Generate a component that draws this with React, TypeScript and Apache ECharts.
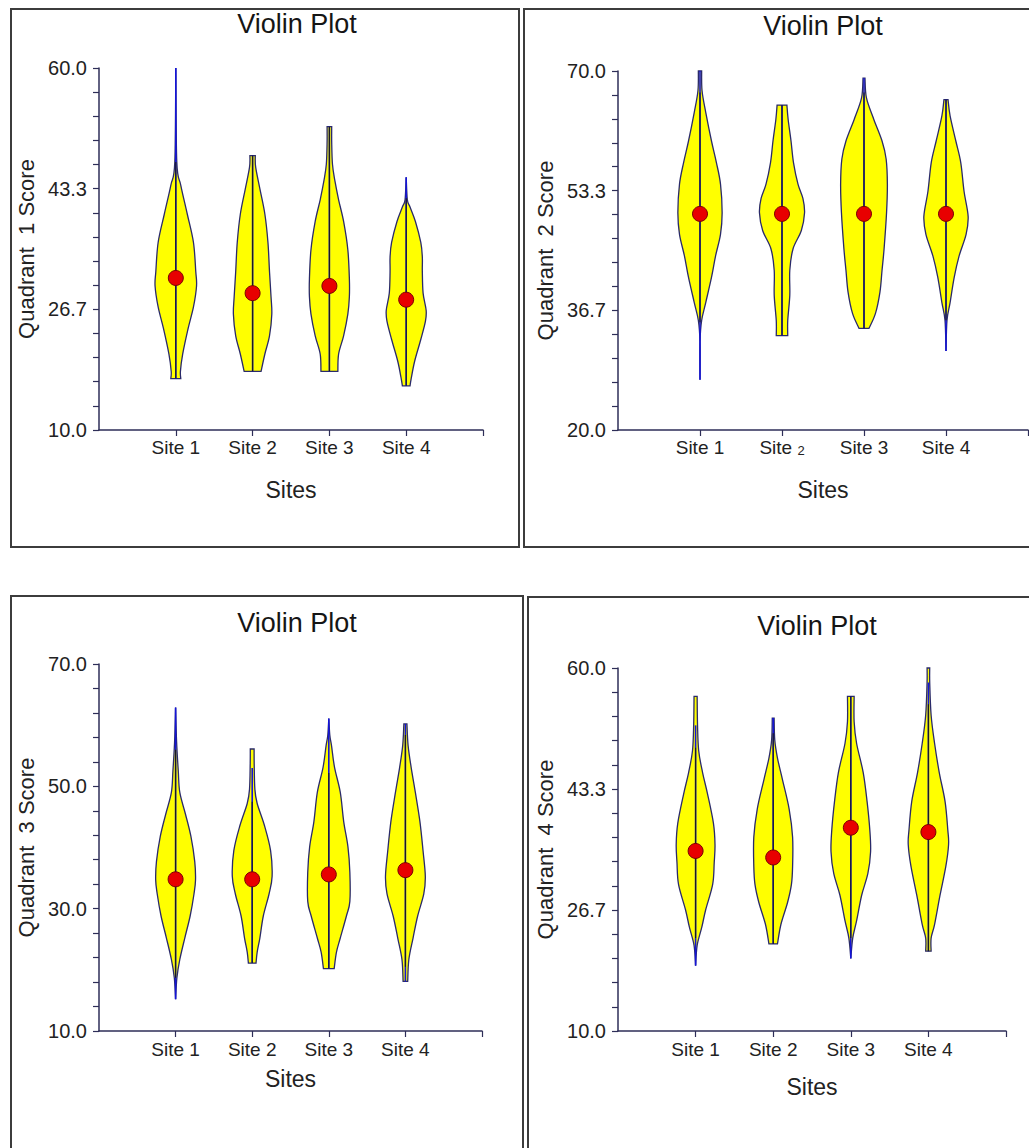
import React, { useEffect, useRef } from "react";
import * as echarts from "echarts";

// ---------- DATA ----------
const siteNames = ["Site 1", "Site 2", "Site 3", "Site 4"];
const chartTitle = "Violin Plot";
const xName = "Sites";
const yNames = ["Quadrant  1 Score", "Quadrant  2 Score", "Quadrant  3 Score", "Quadrant  4 Score"];

// axis ranges [min, max]
const q1Range = [10, 60];
const q2Range = [20, 70];
const q3Range = [10, 70];
const q4Range = [10, 60];

// density profiles: [score, half-width in site units]
const q1Profiles = [
  [[60, 0], [47, 0.013], [43.8, 0.065], [39.8, 0.15], [35.9, 0.23], [31.9, 0.26], [29.9, 0.27], [27, 0.23], [24, 0.16], [20.5, 0.09], [18.1, 0.06], [17.1, 0.065]],
  [[47.9, 0.035], [46.3, 0.04], [43.3, 0.095], [39.8, 0.16], [35.9, 0.2], [31.9, 0.22], [28.4, 0.24], [26, 0.25], [23, 0.22], [20.5, 0.16], [18.1, 0.11]],
  [[51.9, 0.03], [49.7, 0.03], [46.7, 0.04], [44.5, 0.07], [41.8, 0.12], [38.8, 0.185], [34.9, 0.24], [30.9, 0.26], [28.4, 0.26], [26, 0.24], [23, 0.185], [20.5, 0.12], [18.1, 0.11]],
  [[44.9, 0], [41.8, 0.015], [40.8, 0.05], [38.8, 0.12], [35.9, 0.19], [33.9, 0.21], [31.9, 0.21], [28.9, 0.22], [26.5, 0.26], [25, 0.25], [22.5, 0.19], [19.5, 0.11], [17.1, 0.065], [16.1, 0.05]],
];
const q2Profiles = [
  [[70, 0.02], [67.25, 0.025], [64.25, 0.07], [60.25, 0.14], [57.25, 0.2], [54.25, 0.25], [50.25, 0.27], [47.25, 0.25], [44.25, 0.19], [41.25, 0.14], [37.75, 0.07], [35.25, 0.02], [32.25, 0], [27, 0]],
  [[65.25, 0.06], [63.25, 0.075], [60.25, 0.11], [57.25, 0.14], [54.25, 0.195], [52.25, 0.255], [50.25, 0.275], [47.75, 0.235], [45.25, 0.135], [42.25, 0.095], [38.75, 0.095], [35.25, 0.07], [33.15, 0.07]],
  [[69, 0.012], [66.25, 0.03], [63.25, 0.12], [60.25, 0.22], [57.75, 0.27], [54.25, 0.285], [50.25, 0.275], [45.25, 0.245], [42.25, 0.22], [39.25, 0.195], [36.25, 0.14], [34.15, 0.06]],
  [[66, 0.025], [63.75, 0.05], [60.25, 0.12], [57.25, 0.18], [53.25, 0.22], [49.75, 0.27], [47.25, 0.245], [44.25, 0.16], [41.25, 0.1], [37.75, 0.05], [35.25, 0.012], [31, 0]],
];
const q3Profiles = [
  [[62.9, 0], [57.3, 0.013], [52.5, 0.035], [49, 0.055], [45.4, 0.13], [41.8, 0.2], [37.7, 0.25], [34.7, 0.26], [32.4, 0.24], [28.8, 0.19], [25.2, 0.12], [21.7, 0.055], [18.7, 0.017], [15.2, 0]],
  [[56.1, 0.025], [53.7, 0.026], [49.5, 0.035], [47.2, 0.065], [43.6, 0.16], [39.5, 0.24], [35.3, 0.26], [32.4, 0.22], [28.8, 0.145], [25.2, 0.1], [22.9, 0.065], [21.1, 0.05]],
  [[61.1, 0], [58.4, 0.013], [56.7, 0.035], [53.1, 0.075], [49, 0.15], [44.2, 0.195], [40.1, 0.25], [35.9, 0.275], [31.2, 0.275], [28.8, 0.23], [25.2, 0.15], [22.9, 0.1], [20.2, 0.07]],
  [[60.2, 0.02], [56.7, 0.035], [53.1, 0.075], [49, 0.13], [44.2, 0.19], [39.5, 0.23], [35.3, 0.26], [32.4, 0.24], [28.8, 0.16], [25.2, 0.1], [21.7, 0.045], [18.1, 0.03]],
];
const q4Profiles = [
  [[56.1, 0.02], [52.1, 0.025], [48.6, 0.04], [45.6, 0.09], [42.6, 0.155], [38.6, 0.23], [35.7, 0.25], [33.2, 0.24], [30.2, 0.22], [26.7, 0.13], [24.3, 0.08], [21.8, 0.02], [19, 0]],
  [[53.1, 0.012], [50.1, 0.02], [47.6, 0.055], [44.6, 0.12], [40.6, 0.205], [36.7, 0.25], [32.7, 0.25], [30.2, 0.235], [27.7, 0.185], [24.7, 0.1], [22, 0.055]],
  [[56.1, 0.043], [52.6, 0.043], [49.6, 0.075], [45.6, 0.16], [41.6, 0.21], [37.7, 0.245], [34.7, 0.255], [31.7, 0.22], [28.7, 0.14], [25.2, 0.075], [22.8, 0.025], [20, 0]],
  [[60, 0.017], [58, 0.017], [53.5, 0.035], [49.6, 0.08], [45.6, 0.14], [41.6, 0.215], [37.7, 0.25], [35.7, 0.26], [32.7, 0.225], [28.7, 0.15], [24.7, 0.08], [22.8, 0.035], [21, 0.035]],
];

// black centre line [low, high]
const q1Inner = [[17.1, 47], [18.1, 47.9], [18.1, 51.9], [16.1, 42]];
const q2Inner = [[35, 67], [33.15, 65.25], [34.15, 67], [35.3, 66]];
const q3Inner = [[18.7, 56], [21.1, 47.5], [20.2, 52.2], [20.5, 58.4]];
const q4Inner = [[22.8, 49], [22, 51], [22.8, 56.1], [21, 55]];

// blue data range [min, max]
const q1Outer = [[17.1, 60], [18.1, 47.9], [18.1, 51.9], [16.1, 44.9]];
const q2Outer = [[27, 70], [33.15, 65.25], [34.15, 69], [31, 66]];
const q3Outer = [[15.2, 62.9], [21.1, 53], [20.2, 61.1], [18.1, 60.2]];
const q4Outer = [[19, 52.1], [22, 53.1], [20, 56.1], [21, 58]];

// medians (red dots)
const q1Medians = [31.0, 28.9, 29.9, 28.0];
const q2Medians = [50.1, 50.1, 50.1, 50.1];
const q3Medians = [34.8, 34.8, 35.6, 36.3];
const q4Medians = [34.8, 33.9, 38.0, 37.4];

// ---------- LAYOUT / STYLE ----------
const FONT = '"Liberation Sans", Arial, sans-serif';
const AXIS_COLOR = "#2e2e58";
const TEXT_COLOR = "#222222";

const panels = [
  { grid: { left: 99, top: 68, width: 384, height: 362 }, range: q1Range, profiles: q1Profiles, inner: q1Inner, outer: q1Outer, medians: q1Medians, xNameGap: 48, labelMargin: 8, rich2: false },
  { grid: { left: 618, top: 71, width: 410, height: 359 }, range: q2Range, profiles: q2Profiles, inner: q2Inner, outer: q2Outer, medians: q2Medians, xNameGap: 48, labelMargin: 8, rich2: true },
  { grid: { left: 99, top: 664, width: 383, height: 367 }, range: q3Range, profiles: q3Profiles, inner: q3Inner, outer: q3Outer, medians: q3Medians, xNameGap: 36, labelMargin: 9, rich2: false },
  { grid: { left: 618, top: 668, width: 388, height: 363 }, range: q4Range, profiles: q4Profiles, inner: q4Inner, outer: q4Outer, medians: q4Medians, xNameGap: 44, labelMargin: 9, rich2: false },
];

const titlePos = [[297, 24], [823, 26], [297, 623], [817, 626]];
const borders = [
  [11, 9, 508, 538],
  [524, 9, 520, 538],
  [11, 596, 512, 570],
  [528, 597, 520, 570],
];

// violin outline: smooth sides, straight flat ends
function smoothSide(ctx: any, pts: number[][], first: boolean) {
  const n = pts.length;
  if (!n) return;
  if (first) ctx.moveTo(pts[0][0], pts[0][1]);
  else ctx.lineTo(pts[0][0], pts[0][1]);
  for (let i = 0; i < n - 1; i++) {
    const p0 = pts[Math.max(0, i - 1)];
    const p1 = pts[i];
    const p2 = pts[i + 1];
    const p3 = pts[Math.min(n - 1, i + 2)];
    const c1x = p1[0] + (p2[0] - p0[0]) / 6;
    const c1y = p1[1] + (p2[1] - p0[1]) / 6;
    const c2x = p2[0] - (p3[0] - p1[0]) / 6;
    const c2y = p2[1] - (p3[1] - p1[1]) / 6;
    ctx.bezierCurveTo(c1x, c1y, c2x, c2y, p2[0], p2[1]);
  }
}

echarts.graphic.registerShape(
  "violinShape",
  (echarts.graphic as any).extendShape({
    shape: { left: [], right: [] },
    buildPath(ctx: any, shape: any) {
      smoothSide(ctx, shape.left, true);
      smoothSide(ctx, shape.right, false);
      ctx.closePath();
    },
  })
);

function ticksFor(range: number[], splits: number) {
  const out: number[] = [];
  for (let k = 0; k <= splits; k++) out.push(range[0] + (k * (range[1] - range[0])) / splits);
  return out;
}

function buildOption() {
  const grids: any[] = [];
  const xAxes: any[] = [];
  const yAxes: any[] = [];
  const series: any[] = [];

  panels.forEach((p, gi) => {
    grids.push({ ...p.grid, containLabel: false });
    xAxes.push({
      type: "value",
      gridIndex: gi,
      min: 0,
      max: 5,
      splitLine: { show: false },
      axisLine: { show: true, onZero: false, lineStyle: { color: AXIS_COLOR, width: 1.5 } },
      axisTick: { show: true, inside: false, length: 6, customValues: [1, 2, 3, 4, 5], lineStyle: { color: AXIS_COLOR, width: 1.2 } },
      axisLabel: {
        show: true,
        customValues: [1, 2, 3, 4],
        margin: p.labelMargin,
        fontSize: 19,
        fontFamily: FONT,
        color: TEXT_COLOR,
        formatter: (v: number) => {
          const name = siteNames[Math.round(v) - 1] || "";
          if (p.rich2 && Math.round(v) === 2) return "Site {s|2}";
          return name;
        },
        rich: { s: { fontSize: 13, fontFamily: FONT, color: TEXT_COLOR, verticalAlign: "bottom", padding: [6, 0, 0, 0] } },
      },
      name: xName,
      nameLocation: "middle",
      nameGap: p.xNameGap,
      nameTextStyle: { fontSize: 23, fontFamily: FONT, color: TEXT_COLOR },
    });
    const majors = ticksFor(p.range, 3);
    const minors = ticksFor(p.range, 15);
    yAxes.push({
      type: "value",
      gridIndex: gi,
      min: p.range[0],
      max: p.range[1],
      splitLine: { show: false },
      axisLine: { show: true, lineStyle: { color: AXIS_COLOR, width: 1.5 } },
      axisTick: { show: true, inside: false, length: 6, customValues: minors, lineStyle: { color: AXIS_COLOR, width: 1.2 } },
      axisLabel: {
        show: true,
        customValues: majors,
        margin: 12,
        fontSize: 20,
        fontFamily: FONT,
        color: TEXT_COLOR,
        formatter: (v: number) => v.toFixed(1),
      },
      name: yNames[gi],
      nameLocation: "middle",
      nameGap: 62,
      nameTextStyle: { fontSize: 22, fontFamily: FONT, color: TEXT_COLOR },
    });

    series.push({
      type: "custom",
      xAxisIndex: gi,
      yAxisIndex: gi,
      z: 2,
      data: p.medians.map((m, i) => [i + 1, m]),
      renderItem: (params: any, api: any) => {
        const i = params.dataIndex;
        const cx = i + 1;
        const prof = p.profiles[i].slice().sort((a, b) => a[0] - b[0]);
        const left = prof.map(([v, w]) => api.coord([cx - w, v]));
        const right = prof
          .slice()
          .reverse()
          .map(([v, w]) => api.coord([cx + w, v]));
        const [bl, bh] = p.outer[i];
        const [kl, kh] = p.inner[i];
        const b0 = api.coord([cx, bl]);
        const b1 = api.coord([cx, bh]);
        const k0 = api.coord([cx, kl]);
        const k1 = api.coord([cx, kh]);
        return {
          type: "group",
          children: [
            {
              type: "violinShape",
              shape: { left, right },
              style: { fill: "#ffff00", stroke: "#2a2a6a", lineWidth: 1.3 },
            },
            {
              type: "line",
              shape: { x1: b0[0], y1: b0[1], x2: b1[0], y2: b1[1] },
              style: { stroke: "#1414d8", lineWidth: 1.6 },
            },
            {
              type: "line",
              shape: { x1: k0[0], y1: k0[1], x2: k1[0], y2: k1[1] },
              style: { stroke: "#1a1a1a", lineWidth: 1.1 },
            },
          ],
        };
      },
    });
    series.push({
      type: "scatter",
      xAxisIndex: gi,
      yAxisIndex: gi,
      z: 3,
      symbol: "circle",
      symbolSize: 15,
      data: p.medians.map((m, i) => [i + 1, m]),
      itemStyle: { color: "#e80000", borderColor: "#7a0000", borderWidth: 1, opacity: 1 },
    });
  });

  const graphic: any[] = [];
  borders.forEach(([x, y, w, h]) => {
    graphic.push({
      type: "rect",
      shape: { x, y, width: w, height: h },
      style: { fill: "transparent", stroke: "#3c3c3c", lineWidth: 2 },
      z: 0,
    });
  });
  titlePos.forEach(([x, y]) => {
    graphic.push({
      type: "text",
      x,
      y,
      style: {
        text: chartTitle,
        font: `27px ${FONT}`,
        fill: "#151515",
        textAlign: "center",
        textVerticalAlign: "middle",
        align: "center",
        verticalAlign: "middle",
      },
      z: 5,
    });
  });

  return {
    animation: false,
    backgroundColor: "#ffffff",
    textStyle: { fontFamily: FONT },
    grid: grids,
    xAxis: xAxes,
    yAxis: yAxes,
    series,
    graphic,
  };
}

export default function App() {
  const ref = useRef<HTMLDivElement>(null);
  useEffect(() => {
    document.body.style.margin = "0";
    if (!ref.current) return;
    const chart = echarts.init(ref.current, undefined, { renderer: "svg" });
    chart.setOption(buildOption() as any);
    return () => chart.dispose();
  }, []);
  return <div ref={ref} style={{ position: "absolute", left: 0, top: 0, width: 1029, height: 1148, background: "#fff" }} />;
}
